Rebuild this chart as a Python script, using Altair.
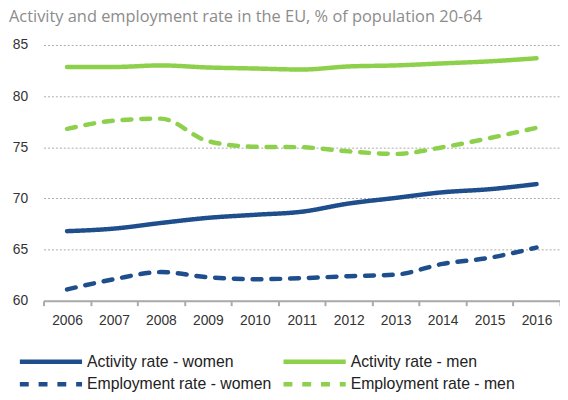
import altair as alt
import pandas as pd

years = [str(y) for y in range(2006, 2017)]
activity_women = [66.8, 67.05, 67.6, 68.1, 68.4, 68.7, 69.5, 70.05, 70.6, 70.9, 71.4]
activity_men = [82.85, 82.85, 83.0, 82.8, 82.7, 82.6, 82.9, 83.0, 83.2, 83.4, 83.7]
employment_women = [61.1, 62.1, 62.8, 62.3, 62.1, 62.2, 62.4, 62.55, 63.6, 64.2, 65.2]
employment_men = [76.8, 77.6, 77.8, 75.6, 75.05, 75.0, 74.6, 74.35, 75.0, 75.9, 76.9]

series_names = ["Activity rate - women", "Activity rate - men",
                "Employment rate - women", "Employment rate - men"]
series_values = [activity_women, activity_men, employment_women, employment_men]
colors = ["#1F4E8C", "#8CD04B", "#1F4E8C", "#8CD04B"]
dashes = [[1, 0], [1, 0], [9, 10], [9, 10]]

rows = []
for name, vals in zip(series_names, series_values):
    for y, v in zip(years, vals):
        rows.append({"year": y, "value": v, "series": name})
df = pd.DataFrame(rows)

chart = alt.Chart(df).mark_line(
    strokeWidth=4.5, interpolate="monotone", strokeCap="round"
).encode(
    x=alt.X("year:O", scale=alt.Scale(paddingInner=0, paddingOuter=0),
            axis=alt.Axis(title=None, labelAngle=0, tickBand="extent",
                          labelFont="Liberation Sans", labelFontSize=14,
                          labelColor="#333333", labelPadding=8,
                          domainColor="#AAAAAA", tickColor="#AAAAAA",
                          domainWidth=2, tickWidth=2, tickSize=5)),
    y=alt.Y("value:Q", scale=alt.Scale(domain=[60, 85]),
            axis=alt.Axis(title=None, values=[60, 65, 70, 75, 80, 85],
                          labelFont="Liberation Sans", labelFontSize=14,
                          labelColor="#333333", labelPadding=16, ticks=False,
                          domain=False, gridColor="#AAAAAA", gridDash=[2, 2],
                          gridWidth=1)),
    color=alt.Color("series:N", scale=alt.Scale(domain=series_names, range=colors),
                    legend=alt.Legend(title=None, orient="none", legendX=-3, legendY=310,
                                      columns=2, columnPadding=3, rowPadding=3,
                                      symbolType="M-4,0L4,0", symbolSize=248,
                                      symbolStrokeWidth=4.5, labelFontSize=16,
                                      labelFont="Liberation Sans", labelColor="#222222",
                                      labelOffset=26, labelLimit=300, direction="horizontal")),
    strokeDash=alt.StrokeDash("series:N", scale=alt.Scale(domain=series_names, range=dashes),
                              legend=None),
).properties(
    width=523, height=259,
    title=alt.TitleParams("Activity and employment rate in the EU, % of population 20-64",
                          anchor="start", frame="group", dx=-35, offset=13,
                          font="Open Sans", fontSize=16.6, fontWeight="normal",
                          color="#8C8C8C"),
    autosize="none",
    padding={"left": 36, "top": 35, "right": 0, "bottom": 90},
).configure_view(stroke=None)

chart.save("out.html", embed_options={"renderer": "svg", "actions": False})
